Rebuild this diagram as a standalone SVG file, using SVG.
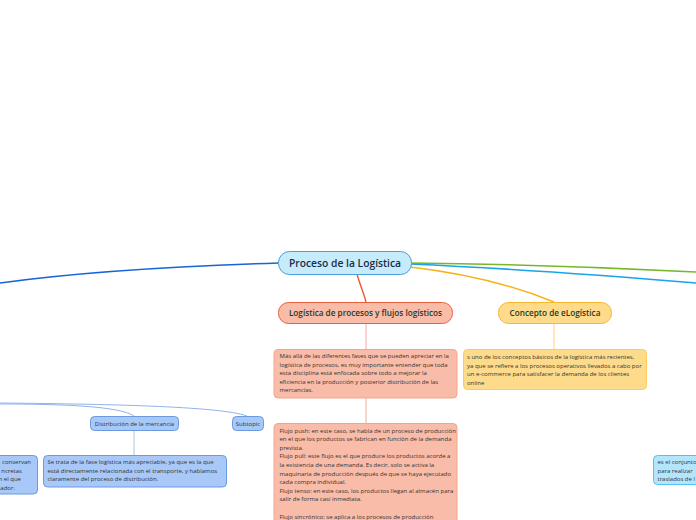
<svg xmlns="http://www.w3.org/2000/svg" width="696" height="520" viewBox="0 0 696 520">
<style>
text{font-family:"Open Sans","Noto Sans","Liberation Sans",sans-serif}
.t{font-size:6px;fill:#333}
.h{font-size:8.2px;font-weight:600;fill:#1e3a2a;text-anchor:middle}
.c{fill:none}
</style>
<rect width="696" height="520" fill="#fff"/>
<g id="connectors" class="c">
<path d="M279,263 C180,266 80,272 0,283" stroke="#1565d8" stroke-width="1.6"/>
<path d="M410,263 C500,264 600,267 696,272" stroke="#76b82a" stroke-width="1.6"/>
<path d="M410,264 C500,268 600,275 696,283" stroke="#1aa3e8" stroke-width="1.6"/>
<path d="M410,267 C470,274 520,288 554,302" stroke="#f7b21a" stroke-width="1.4"/>
<path d="M357,274 C360,285 364,294 366,302" stroke="#ea5a2b" stroke-width="1.4"/>
<path d="M366,323 L366,349" stroke="#f5aa98" stroke-width="1"/>
<path d="M366,398 L366,423" stroke="#f5aa98" stroke-width="1"/>
<path d="M554,323 L554,349" stroke="#fdd27a" stroke-width="1"/>
<path d="M0,404 C60,404 120,406 134,416" stroke="#8fb4ea" stroke-width="1"/>
<path d="M0,403 C100,404 220,406 247,416" stroke="#8fb4ea" stroke-width="1"/>
<path d="M134,430 L134,455" stroke="#a8c4f0" stroke-width="1"/>
</g>
<g id="root">
<rect x="278.5" y="251.5" width="133" height="23" rx="11" fill="#c6ebfb" stroke="#4a9fd8" stroke-width="1"/>
<text x="345" y="266.5" font-size="10.3" font-weight="600" fill="#1a2a4a" text-anchor="middle">Proceso de la Logística</text>
</g>
<g id="logistica">
<rect x="278.5" y="302.5" width="174" height="21" rx="10" fill="#f9bca8" stroke="#e8603c" stroke-width="1"/>
<text class="h" x="365.5" y="316">Logística de procesos y flujos logísticos</text>
</g>
<g id="concepto">
<rect x="498.5" y="302.5" width="113" height="21" rx="10" fill="#fddb8a" stroke="#f7b731" stroke-width="1"/>
<text class="h" x="555" y="316">Concepto de eLogística</text>
</g>
<g id="logistica-text">
<rect x="274" y="349.5" width="183" height="48.5" rx="4" fill="#f9bca8" stroke="#f5a48c" stroke-width="1"/>
<text class="t">
<tspan x="279.5" y="358">Más allá de las diferentes fases que se pueden apreciar en la</tspan>
<tspan x="279.5" y="366.6">logística de procesos, es muy importante entender que toda</tspan>
<tspan x="279.5" y="375.2">esta disciplina está enfocada sobre todo a mejorar la</tspan>
<tspan x="279.5" y="383.8">eficiencia en la producción y posterior distribución de las</tspan>
<tspan x="279.5" y="392.4">mercancías.</tspan>
</text>
</g>
<g id="flujos-text">
<rect x="274" y="423.5" width="183" height="110" rx="4" fill="#f9bca8" stroke="#f5a48c" stroke-width="1"/>
<text class="t">
<tspan x="279.5" y="432.5">Flujo push: en este caso, se habla de un proceso de producción</tspan>
<tspan x="279.5" y="441.1">en el que los productos se fabrican en función de la demanda</tspan>
<tspan x="279.5" y="449.7">prevista.</tspan>
<tspan x="279.5" y="458.3">Flujo pull: este flujo es el que produce los productos acorde a</tspan>
<tspan x="279.5" y="466.9">la existencia de una demanda. Es decir, solo se activa la</tspan>
<tspan x="279.5" y="475.5">maquinaria de producción después de que se haya ejecutado</tspan>
<tspan x="279.5" y="484.1">cada compra individual.</tspan>
<tspan x="279.5" y="492.7">Flujo tenso: en este caso, los productos llegan al almacén para</tspan>
<tspan x="279.5" y="501.3">salir de forma casi inmediata.</tspan>
<tspan x="279.5" y="518.5">Flujo sincrónico: se aplica a los procesos de producción</tspan>
</text>
</g>
<g id="concepto-text">
<rect x="463.5" y="349.5" width="183" height="40" rx="4" fill="#fddb8a" stroke="#f9cd5c" stroke-width="1"/>
<text class="t">
<tspan x="467" y="359">s uno de los conceptos básicos de la logística más recientes,</tspan>
<tspan x="467" y="367.6">ya que se refiere a los procesos operativos llevados a cabo por</tspan>
<tspan x="467" y="376.2">un e-commerce para satisfacer la demanda de los clientes</tspan>
<tspan x="467" y="384.8">online</tspan>
</text>
</g>
<g id="distribucion">
<rect x="90.5" y="416.5" width="88" height="14" rx="4" fill="#a8c8f8" stroke="#6a9ae0" stroke-width="1"/>
<text class="t" x="134.5" y="425.7" text-anchor="middle">Distribución de la mercancía</text>
</g>
<g id="subtopic">
<rect x="232.5" y="416.5" width="31" height="14" rx="4" fill="#a8c8f8" stroke="#6a9ae0" stroke-width="1"/>
<text class="t" x="248" y="425.7" text-anchor="middle">Subtopic</text>
</g>
<g id="distribucion-text">
<rect x="43.5" y="455.5" width="183" height="31.5" rx="4" fill="#a8c8f8" stroke="#6a9ae0" stroke-width="1"/>
<text class="t">
<tspan x="47.5" y="464">Se trata de la fase logística más apreciable, ya que es la que</tspan>
<tspan x="47.5" y="472.6">está directamente relacionada con el transporte, y hablamos</tspan>
<tspan x="47.5" y="481.2">claramente del proceso de distribución.</tspan>
</text>
</g>
<g id="left-text">
<rect x="-150" y="455.5" width="187.5" height="38.5" rx="4" fill="#a8c8f8" stroke="#6a9ae0" stroke-width="1"/>
<text class="t" text-anchor="end">
<tspan x="32.5" y="464">conservan</tspan>
<tspan x="23.5" y="472.6">ncretas</tspan>
<tspan x="22.5" y="481.2">n el que</tspan>
<tspan x="15" y="489.8">ador.</tspan>
</text>
</g>
<g id="right-text">
<rect x="653.5" y="455.5" width="100" height="29" rx="4" fill="#b3e5fc" stroke="#4fc3f7" stroke-width="1"/>
<text class="t">
<tspan x="657.5" y="464">es el conjunto</tspan>
<tspan x="657.5" y="472.6">para realizar</tspan>
<tspan x="657.5" y="481.2">traslados de l</tspan>
</text>
</g>
</svg>
